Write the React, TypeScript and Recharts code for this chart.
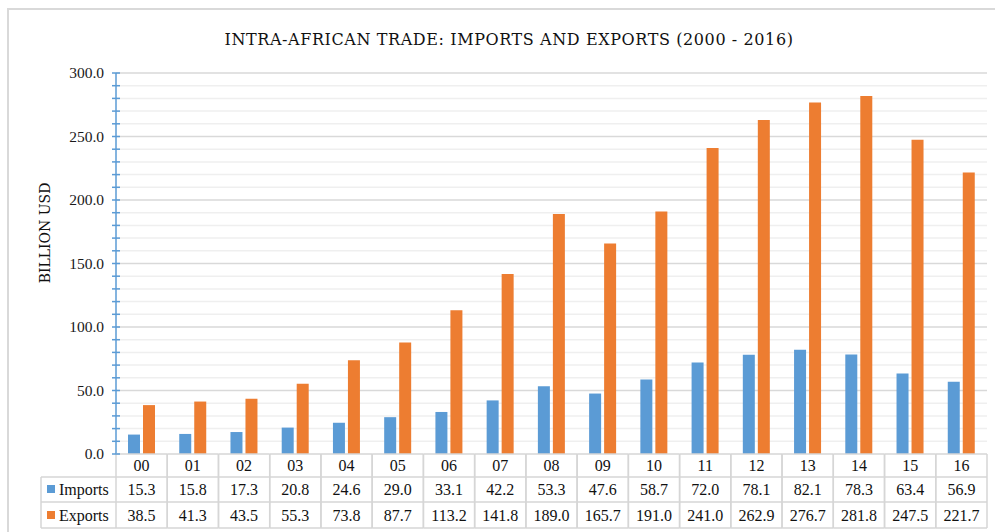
import React from "react";
import {Bar, BarChart, CartesianGrid, XAxis, YAxis} from "recharts";

const years = ["00", "01", "02", "03", "04", "05", "06", "07", "08", "09", "10", "11", "12", "13", "14", "15", "16"];
const imports = [15.3, 15.8, 17.3, 20.8, 24.6, 29.0, 33.1, 42.2, 53.3, 47.6, 58.7, 72.0, 78.1, 82.1, 78.3, 63.4, 56.9];
const exports_ = [38.5, 41.3, 43.5, 55.3, 73.8, 87.7, 113.2, 141.8, 189.0, 165.7, 191.0, 241.0, 262.9, 276.7, 281.8, 247.5, 221.7];
const yTicks = [0, 10, 20, 30, 40, 50, 60, 70, 80, 90, 100, 110, 120, 130, 140, 150, 160, 170, 180, 190, 200, 210, 220, 230, 240, 250, 260, 270, 280, 290, 300];
const majorTicks = [50, 100, 150, 200, 250, 300];

const data = years.map((y, i) => ({name: y, imports: imports[i], exports: exports_[i]}));

const FONT = "'Liberation Serif', serif";
const TITLE_FONT = "'DejaVu Serif', serif";
const BLUE = "#5B9BD5";
const ORANGE = "#ED7D31";
const LINE = "#D6D6D6";
const TABLE_LEFT = 41;
const ROWS = [0, 23, 48, 74];

const YTick = (props: any) => {
    const {x, y, payload} = props;
    const major = payload.value % 50 === 0;
    return (
        <g>
            <line x1={x - 4} x2={x + 4} y1={y} y2={y} stroke={BLUE} strokeWidth={1.5}/>
            {major && (
                <text x={x - 12} y={y} dy={5} textAnchor="end" fontFamily={FONT} fontSize={15.5} fill="#1a1a1a">
                    {payload.value.toFixed(1)}
                </text>
            )}
        </g>
    );
};

const TableTick = (props: any) => {
    const {x, y, payload, index} = props;
    const half = payload.offset || 25.6;
    const left = x - half;
    const right = x + half;
    const i = years.indexOf(payload.value);
    return (
        <g fontFamily={FONT} fontSize={16} fill="#111">
            {ROWS.map((r) => (
                <line key={r} x1={left} x2={right} y1={y + r} y2={y + r} stroke={LINE} strokeWidth={1.5}/>
            ))}
            <line x1={left} x2={left} y1={y} y2={y + 74} stroke={LINE} strokeWidth={1.5}/>
            <line x1={right} x2={right} y1={y} y2={y + 74} stroke={LINE} strokeWidth={1.5}/>
            <text x={x} y={y + 17} textAnchor="middle">{payload.value}</text>
            <text x={x} y={y + 41} textAnchor="middle">{imports[i].toFixed(1)}</text>
            <text x={x} y={y + 67} textAnchor="middle">{exports_[i].toFixed(1)}</text>
            {index === 0 && (
                <g>
                    <line x1={TABLE_LEFT} x2={left} y1={y + 23} y2={y + 23} stroke={LINE} strokeWidth={1.5}/>
                    <line x1={TABLE_LEFT} x2={left} y1={y + 48} y2={y + 48} stroke={LINE} strokeWidth={1.5}/>
                    <line x1={TABLE_LEFT} x2={left} y1={y + 74} y2={y + 74} stroke={LINE} strokeWidth={1.5}/>
                    <line x1={TABLE_LEFT} x2={TABLE_LEFT} y1={y + 23} y2={y + 74} stroke={LINE} strokeWidth={1.5}/>
                    <rect x={TABLE_LEFT + 6} y={y + 31} width={8} height={8} fill={BLUE}/>
                    <text x={TABLE_LEFT + 18} y={y + 41}>Imports</text>
                    <rect x={TABLE_LEFT + 6} y={y + 57} width={8} height={8} fill={ORANGE}/>
                    <text x={TABLE_LEFT + 18} y={y + 67}>Exports</text>
                </g>
            )}
        </g>
    );
};

export default function App() {
    return (
        <div style={{position: "absolute", left: 0, top: 0, width: 995, height: 532, background: "#fff", overflow: "hidden"}}>
            <div style={{position: "absolute", left: 7, top: 8, width: 1000, height: 540, border: "2px solid #D9D9D9", boxSizing: "border-box"}}/>
            <div style={{position: "absolute", left: 0, top: 0}}>
                <BarChart
                    width={995}
                    height={532}
                    data={data}
                    margin={{top: 73, right: 8, left: 0, bottom: 0}}
                    barSize={12}
                    barGap={3}
                >
                    <text x={509} y={45} textAnchor="middle" fontFamily={TITLE_FONT} fontSize={16} letterSpacing={0.6} fill="#111">
                        INTRA-AFRICAN TRADE: IMPORTS AND EXPORTS (2000 - 2016)
                    </text>
                    <text x={0} y={0} transform="translate(50 233) rotate(-90)" textAnchor="middle" fontFamily={TITLE_FONT} fontSize={14} fill="#111">
                        BILLION USD
                    </text>
                    <CartesianGrid vertical={false} horizontalValues={yTicks.filter((t) => t % 50 !== 0)} stroke="#EFEFEF" strokeWidth={1.5}/>
                    <CartesianGrid vertical={false} horizontalValues={majorTicks} stroke="#D9D9D9" strokeWidth={1.5}/>
                    <XAxis
                        dataKey="name"
                        height={78}
                        axisLine={false}
                        tickLine={false}
                        tickSize={0}
                        tickMargin={0}
                        interval={0}
                        tick={<TableTick/>}
                    />
                    <YAxis
                        width={116}
                        domain={[0, 300]}
                        ticks={yTicks}
                        interval={0}
                        tickSize={0}
                        tickMargin={0}
                        tickLine={false}
                        axisLine={{stroke: BLUE, strokeWidth: 1.5}}
                        tick={<YTick/>}
                    />
                    <Bar dataKey="imports" fill={BLUE} isAnimationActive={false}/>
                    <Bar dataKey="exports" fill={ORANGE} isAnimationActive={false}/>
                </BarChart>
            </div>
        </div>
    );
}
